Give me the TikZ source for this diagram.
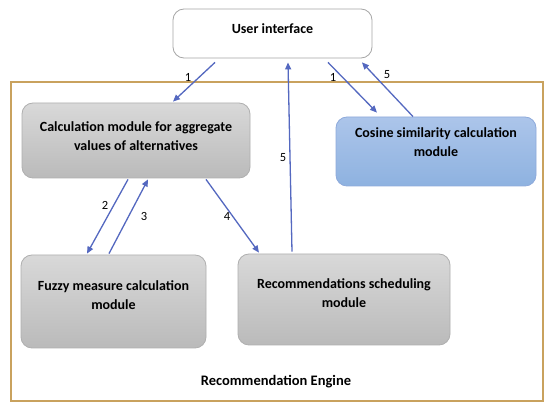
\documentclass[tikz,border=0pt]{standalone}
\usepackage{fontspec}
\setmainfont{Carlito}
\usetikzlibrary{arrows.meta}
\definecolor{arr}{HTML}{5468C0}
\definecolor{frm}{HTML}{C9A25E}
\definecolor{gbd}{HTML}{AFAFAF}
\definecolor{bbd}{HTML}{8EAADB}
\tikzset{
  box/.style={draw=gbd, line width=0.8pt, rounded corners=11pt, top color=black!15, bottom color=black!27, inner sep=0pt},
  txt/.style={font=\bfseries\fontsize{14}{19}\selectfont, align=center, inner sep=0pt},
  num/.style={font=\fontsize{12.5}{14}\selectfont, inner sep=0pt},
  con/.style={draw=arr, line width=1.3pt, -{Triangle[length=7pt,width=6pt]}}
}
\begin{document}
\begin{tikzpicture}[x=1pt,y=-1pt]
\useasboundingbox[fill=white] (0,0) rectangle (550,409);
\node[draw=frm, line width=1.4pt, minimum width=532pt, minimum height=319pt, inner sep=0pt] (frame) at (277,241.5) {};
\node[draw=black!35, line width=0.8pt, rounded corners=11pt, fill=white, minimum width=199pt, minimum height=49pt, inner sep=0pt] (ui) at (272.5,33.5) {};
\node[txt] (uit) at (272.5,29) {User interface};
\node[box, minimum width=228pt, minimum height=75pt] (calc) at (136,140.5) {};
\node[txt] (calct) at (136,136) {Calculation module for aggregate\\values of alternatives};
\node[draw=bbd, line width=0.8pt, rounded corners=11pt, top color={rgb,255:red,172;green,197;blue,234}, bottom color={rgb,255:red,142;green,178;blue,224}, minimum width=200pt, minimum height=69pt, inner sep=0pt] (cos) at (436,151.5) {};
\node[txt] (cost) at (436,142.5) {Cosine similarity calculation\\module};
\node[box, minimum width=185pt, minimum height=93pt] (fuzzy) at (113.5,301.5) {};
\node[txt] (fuzzyt) at (113.5,295.5) {Fuzzy measure calculation\\module};
\node[box, minimum width=212pt, minimum height=91pt] (recs) at (344,299.5) {};
\node[txt] (recst) at (344,293.5) {Recommendations scheduling\\module};
\node[txt, font=\bfseries\fontsize{14.5}{18}\selectfont] (eng) at (276,382) {Recommendation Engine};
% connectors
\draw[con] ([xshift=-57.5pt,yshift=-4pt]ui.south) -- ([xshift=37pt,yshift=1pt]calc.north);
\draw[con] ([xshift=55.5pt,yshift=-4pt]ui.south) -- ([xshift=-59pt,yshift=4pt]cos.north);
\draw[con] ([xshift=-23pt]cos.north) -- ([xshift=89.5pt,yshift=-4pt]ui.south);
\draw[con] ([xshift=-52pt,yshift=2pt]recs.north) -- ([xshift=15.5pt,yshift=-4pt]ui.south);
\draw[con] ([xshift=-8pt,yshift=-1pt]calc.south) -- ([xshift=-26.5pt,yshift=1pt]fuzzy.north);
\draw[con] ([xshift=-4.5pt,yshift=1pt]fuzzy.north) -- ([xshift=12pt,yshift=-1pt]calc.south);
\draw[con] ([xshift=70pt,yshift=-1pt]calc.south) -- ([xshift=-85pt,yshift=1pt]recs.north);
% labels
\node[num] (l1a) at (188,77) {1};
\node[num] (l1b) at (333,77) {1};
\node[num] (l5a) at (387,75) {5};
\node[num] (l5b) at (283,158) {5};
\node[num] (l2) at (105,205) {2};
\node[num] (l3) at (144,216) {3};
\node[num] (l4) at (227,216) {4};
\end{tikzpicture}
\end{document}
